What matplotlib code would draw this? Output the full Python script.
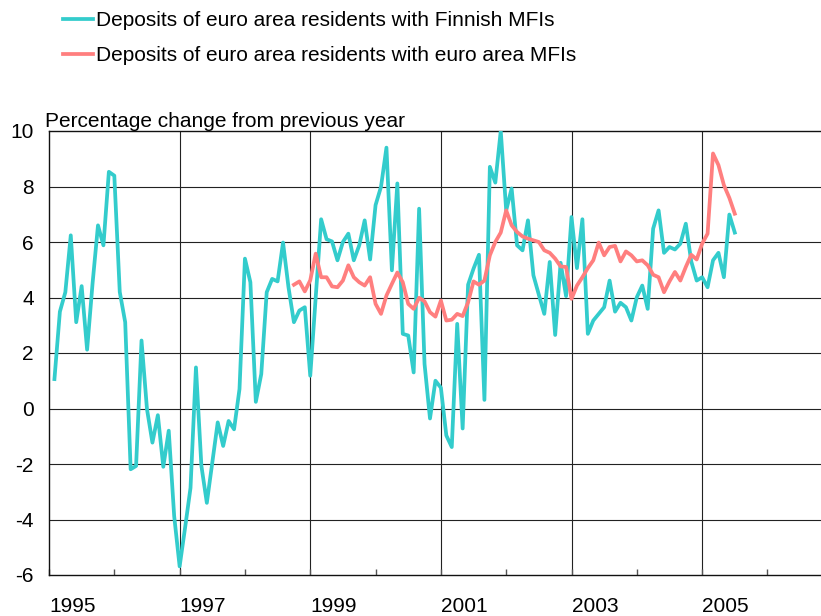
import numpy as np
import matplotlib.pyplot as plt
from matplotlib.ticker import FixedLocator, MultipleLocator

plt.rcParams['font.family'] = ['Liberation Sans', 'DejaVu Sans']
plt.rcParams['axes.unicode_minus'] = False

# months counted from January 1995 (0 = Jan 1995)
finnish_start = 1
finnish = [1.06, 3.49, 4.19, 6.24, 3.11, 4.41, 2.12, 4.5, 6.6, 5.88, 8.53, 8.39,
           4.2, 3.11, -2.19, -2.07, 2.45, -0.02, -1.23, -0.24, -2.1, -0.8, -3.88, -5.69,
           -4.3, -2.86, 1.48, -2.07, -3.4, -1.95, -0.5, -1.35, -0.45, -0.75, 0.7, 5.4,
           4.55, 0.24, 1.24, 4.19, 4.67, 4.58, 5.98, 4.37, 3.11, 3.53, 3.65, 1.18,
           4.0, 6.82, 6.1, 6.02, 5.34, 6.0, 6.3, 5.34, 5.88, 6.78, 5.37, 7.33,
           7.99, 9.4, 4.98, 8.11, 2.69, 2.63, 1.3, 7.2, 1.6, -0.36, 1.0, 0.75,
           -0.97, -1.39, 3.05, -0.72, 4.46, 5.04, 5.54, 0.31, 8.71, 8.14, 10.0, 7.14,
           7.93, 5.88, 5.7, 6.78, 4.8, 4.1, 3.41, 5.28, 2.65, 5.25, 4.05, 6.9,
           5.06, 6.82, 2.69, 3.17, 3.41, 3.65, 4.61, 3.49, 3.81, 3.65, 3.17, 4.01,
           4.43, 3.59, 6.48, 7.14, 5.61, 5.82, 5.73, 5.94, 6.66, 5.3, 4.61, 4.73,
           4.37, 5.34, 5.61, 4.73, 6.99, 6.34]

euro_start = 45
euro = [4.46, 4.58, 4.22, 4.62, 5.58, 4.73, 4.73, 4.4, 4.37, 4.61, 5.16, 4.73,
        4.55, 4.43, 4.73, 3.77, 3.41, 4.07, 4.49, 4.9, 4.55, 3.77, 3.59, 3.99,
        3.86, 3.47, 3.31, 3.89, 3.17, 3.2, 3.41, 3.33, 3.83, 4.58, 4.46, 4.61,
        5.52, 6.0, 6.34, 7.14, 6.6, 6.36, 6.2, 6.12, 6.06, 6.0, 5.7, 5.61,
        5.4, 5.12, 5.1, 3.95, 4.43, 4.73, 5.06, 5.34, 5.98, 5.52, 5.82, 5.86,
        5.3, 5.66, 5.52, 5.3, 5.34, 5.16, 4.82, 4.73, 4.19, 4.58, 4.92, 4.61,
        5.1, 5.54, 5.37, 5.94, 6.3, 9.19, 8.77, 8.05, 7.59, 7.02]

labels = ['Deposits of euro area residents with Finnish MFIs',
          'Deposits of euro area residents with euro area MFIs']
year_labels = [1995, 1997, 1999, 2001, 2003, 2005]

x_fin = 1995 + (finnish_start + np.arange(len(finnish))) / 12
x_eur = 1995 + (euro_start + np.arange(len(euro))) / 12

fig = plt.figure(figsize=(8.21, 6.16), dpi=100)
ax = fig.add_axes([49 / 821, 1 - 575 / 616, 1 - 49 / 821, (575 - 131) / 616])

l1, = ax.plot(x_fin, finnish, color='#33CCCC', lw=2.7, solid_joinstyle='round', zorder=3)
l2, = ax.plot(x_eur, euro, color='#FF7F7F', lw=2.7, solid_joinstyle='round', zorder=3)

ax.set_xlim(1995, 2006.82)
ax.set_ylim(-6, 10)

# grid
for yv in range(-4, 10, 2):
    ax.axhline(yv, color='#222222', lw=0.8, zorder=1)
for xv in year_labels[1:]:
    ax.axvline(xv, color='#222222', lw=0.8, zorder=1)

ax.xaxis.set_major_locator(FixedLocator(year_labels))
ax.set_xticklabels([str(y) for y in year_labels], ha='left')
ax.xaxis.set_minor_locator(MultipleLocator(1))
ax.tick_params(axis='x', which='both', direction='in', length=4, width=1, color='#555555',
               labelsize=15, pad=16)
ax.set_yticks(range(-6, 11, 2))
ax.tick_params(axis='y', length=0, labelsize=15, pad=11)

for s in ['left', 'top', 'bottom']:
    ax.spines[s].set_color('#111111')
    ax.spines[s].set_linewidth(1.0)
ax.spines['right'].set_visible(False)

fig.text(45 / 821, 1 - 127 / 616, 'Percentage change from previous year', fontsize=15,
         ha='left', va='baseline')

fig.legend([l1, l2], labels, loc='upper left', bbox_to_anchor=(55 / 821, 1 - 3 / 616),
           frameon=False, fontsize=15, handlelength=1.4, handletextpad=0.15,
           labelspacing=0.75, borderaxespad=0)

fig.savefig('out.png', dpi=100)
